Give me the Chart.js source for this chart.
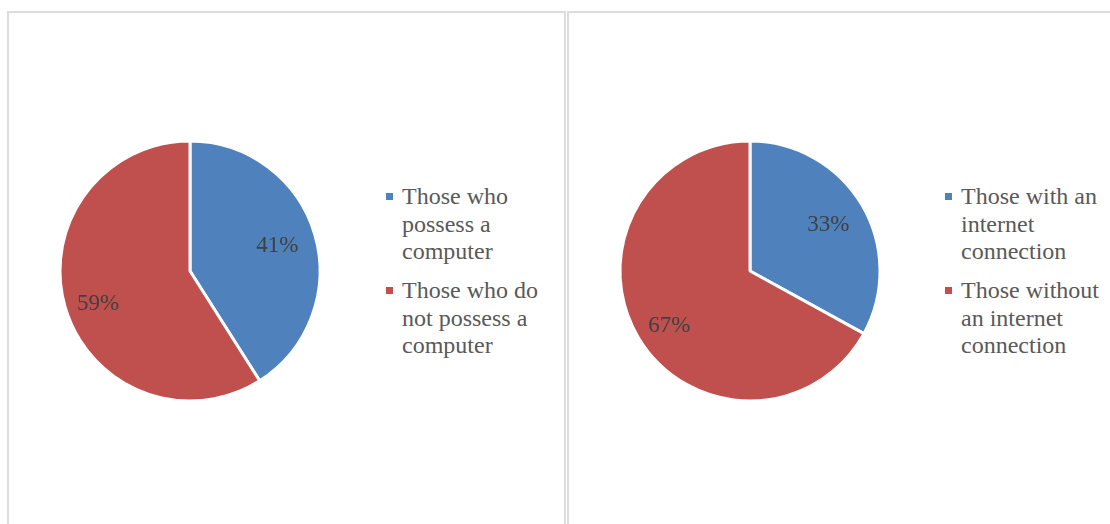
<!DOCTYPE html>
<html lang="en">
<head>
    <meta charset="UTF-8">
    <title>Computer and internet access</title>
    <script src="https://cdn.jsdelivr.net/npm/chart.js"></script>
    <style>
        html, body { margin: 0; padding: 0; background: #fff; }
        body { width: 1110px; height: 524px; position: relative; overflow: hidden; }
        .panel { position: absolute; top: 11px; height: 540px; border: 2px solid #dcdcdc; border-bottom: none; box-sizing: border-box; }
        .pie { position: absolute; width: 300px; height: 300px; }
        .legend { position: absolute; font-family: "Liberation Serif", "Times New Roman", serif; font-size: 24px; line-height: 27.5px; color: #595959; }
        .legend .item { position: relative; padding-left: 16px; margin-bottom: 11.5px; white-space: nowrap; }
        .legend .box { position: absolute; left: 0; top: 10px; width: 7px; height: 7px; }
    </style>
</head>
<body>
    <div class="panel" style="left:7px; width:559px;"></div>
    <div class="panel" style="left:567px; width:560px;"></div>

    <div class="pie" style="left:40px; top:121px;"><canvas id="pieComputer"></canvas></div>
    <div class="pie" style="left:600px; top:121px;"><canvas id="pieInternet"></canvas></div>

    <div class="legend" id="legendComputer" style="left:386px; top:183px;"></div>
    <div class="legend" id="legendInternet" style="left:945px; top:183px;"></div>

    <script>
        // Данные диаграмм
        const computerLabels = [['Those who', 'possess a', 'computer'], ['Those who do', 'not possess a', 'computer']];
        const computerValues = [41, 59];
        const internetLabels = [['Those with an', 'internet', 'connection'], ['Those without', 'an internet', 'connection']];
        const internetValues = [33, 67];
        const sliceColors = ['#4f81bd', '#c0504d'];

        // Подписи процентов внутри секторов
        const percentLabels = {
            id: 'percentLabels',
            afterDatasetsDraw(chart) {
                const ctx = chart.ctx;
                const meta = chart.getDatasetMeta(0);
                const values = chart.data.datasets[0].data;
                const total = values.reduce((a, b) => a + b, 0);
                ctx.save();
                ctx.font = '23px "Liberation Serif", "Times New Roman", serif';
                ctx.fillStyle = '#404040';
                ctx.textAlign = 'center';
                ctx.textBaseline = 'middle';
                meta.data.forEach((arc, i) => {
                    const share = values[i] / total;
                    // большие сектора — подпись чуть дальше от центра
                    const k = share > 0.5 ? 0.75 : 0.70;
                    const mid = (arc.startAngle + arc.endAngle) / 2 - (share > 0.5 ? 0.06 : 0);
                    const r = arc.outerRadius * k;
                    const pct = Math.round(share * 100) + '%';
                    ctx.fillText(pct, arc.x + Math.cos(mid) * r, arc.y + Math.sin(mid) * r);
                });
                ctx.restore();
            }
        };

        function makePie(id, labels, values) {
            new Chart(document.getElementById(id), {
                type: 'pie',
                data: {
                    labels: labels,
                    datasets: [{
                        data: values,
                        backgroundColor: sliceColors,
                        borderColor: '#ffffff',
                        borderWidth: 3
                    }]
                },
                options: {
                    responsive: true,
                    maintainAspectRatio: false,
                    animation: false,
                    radius: 130,
                    plugins: {
                        legend: { display: false },
                        tooltip: {
                            callbacks: {
                                title: items => items[0].label.join(' '),
                                label: c => c.raw + '%'
                            }
                        }
                    }
                },
                plugins: [percentLabels]
            });
        }

        function makeLegend(id, labels) {
            const el = document.getElementById(id);
            labels.forEach((lines, i) => {
                const item = document.createElement('div');
                item.className = 'item';
                const box = document.createElement('span');
                box.className = 'box';
                box.style.background = sliceColors[i];
                item.appendChild(box);
                lines.forEach((line, j) => {
                    if (j > 0) item.appendChild(document.createElement('br'));
                    item.appendChild(document.createTextNode(line));
                });
                el.appendChild(item);
            });
        }

        makePie('pieComputer', computerLabels, computerValues);
        makePie('pieInternet', internetLabels, internetValues);
        makeLegend('legendComputer', computerLabels);
        makeLegend('legendInternet', internetLabels);
    </script>
</body>
</html>
